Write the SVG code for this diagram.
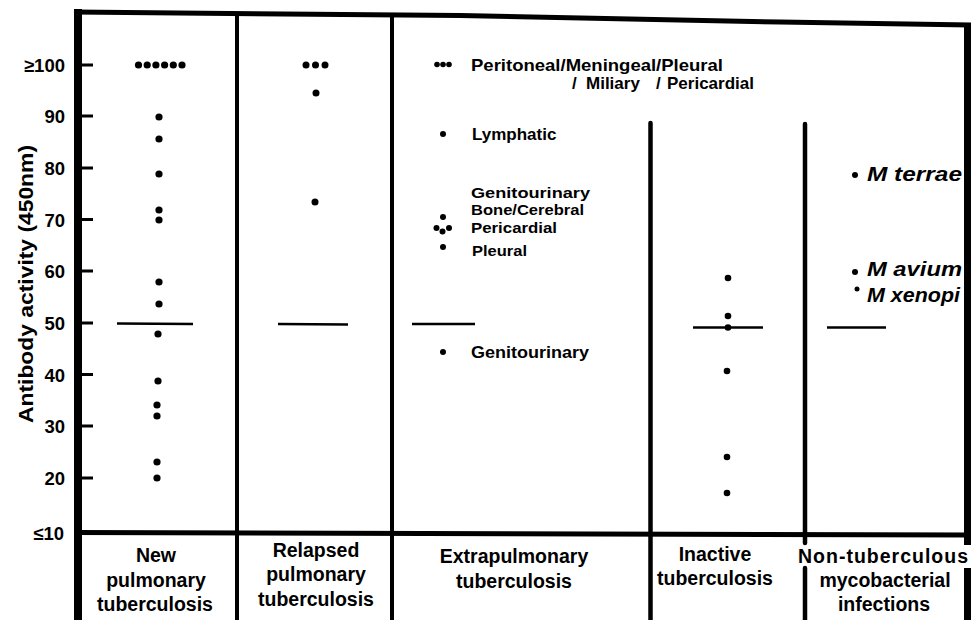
<svg xmlns="http://www.w3.org/2000/svg" width="971" height="620" viewBox="0 0 971 620">
<style>
.ln{stroke:#000;fill:none}
.md{stroke:#000;stroke-width:2.5;fill:none}
.tk{font-family:"Liberation Sans",Arial,sans-serif;font-weight:bold;font-size:18.5px;text-anchor:end;fill:#000}
.cat{font-family:"Liberation Sans",Arial,sans-serif;font-weight:bold;font-size:19.5px;text-anchor:middle;fill:#000}
.lbl{font-family:"Liberation Sans",Arial,sans-serif;font-weight:bold;font-size:17px;fill:#000}
.st{font-family:"Liberation Sans",Arial,sans-serif;font-weight:bold;font-size:15.5px;fill:#000}
.sp{font-family:"Liberation Sans",Arial,sans-serif;font-weight:bold;font-style:italic;font-size:21px;fill:#000}
.ax{font-family:"Liberation Sans",Arial,sans-serif;font-weight:bold;font-size:21px;text-anchor:middle;fill:#000}
circle{fill:#000}
</style>
<rect width="971" height="620" fill="#fff"/>
<g id="frame" class="ln">
<path d="M78 620 V9" stroke-width="8"/>
<polyline points="74,12 460,15.5 780,22 971,25" stroke-width="5"/>
<path d="M967.5 23 V545 M967.5 568 V620" stroke-width="7"/>
<line x1="74" y1="532.5" x2="971" y2="535" stroke-width="5"/>
<line x1="237" y1="13" x2="237" y2="620" stroke-width="4"/>
<line x1="392" y1="15" x2="392" y2="620" stroke-width="4"/>
<line x1="650.5" y1="123" x2="650.5" y2="622" stroke-width="4.5" stroke-linecap="round"/>
<path d="M805 124 V543 M805 568 V622" stroke-width="4.5" stroke-linecap="round"/>
</g>
<g id="y-axis">
<g class="ln" stroke-width="3">
<path d="M82 65 H93 M82 116 H93 M82 168 H93 M82 219.5 H93 M82 271 H93 M82 323 H93 M82 374.5 H93 M82 426 H93 M82 478 H93"/>
</g>
<text class="tk" x="65" y="71.5">≥100</text>
<text class="tk" x="65" y="123">90</text>
<text class="tk" x="65" y="175">80</text>
<text class="tk" x="65" y="226.5">70</text>
<text class="tk" x="65" y="278">60</text>
<text class="tk" x="65" y="330">50</text>
<text class="tk" x="65" y="381.5">40</text>
<text class="tk" x="65" y="433">30</text>
<text class="tk" x="65" y="485">20</text>
<text class="tk" x="64" y="539.5">≤10</text>
<text class="ax" transform="translate(33,284) rotate(-90)" textLength="278" lengthAdjust="spacingAndGlyphs">Antibody activity (450nm)</text>
</g>
<g id="col-new">
<g>
<circle cx="138.5" cy="65" r="3.6"/><circle cx="147.2" cy="65" r="3.6"/><circle cx="155.9" cy="65" r="3.6"/><circle cx="164.6" cy="65" r="3.6"/><circle cx="173.3" cy="65" r="3.6"/><circle cx="182" cy="65" r="3.6"/>
<circle cx="159" cy="117" r="3.6"/><circle cx="159" cy="139" r="3.6"/><circle cx="159" cy="174" r="3.6"/><circle cx="159" cy="210" r="3.6"/><circle cx="159" cy="220" r="3.6"/><circle cx="159" cy="282" r="3.6"/><circle cx="159" cy="304" r="3.6"/><circle cx="158" cy="334" r="3.6"/><circle cx="158" cy="381" r="3.6"/><circle cx="157" cy="405" r="3.6"/><circle cx="157" cy="416" r="3.6"/><circle cx="157" cy="462" r="3.6"/><circle cx="157" cy="478" r="3.6"/>
</g>
<line class="md" x1="117" y1="323.5" x2="193" y2="324"/>
<text class="cat" x="156" y="562">New</text>
<text class="cat" x="156" y="587">pulmonary</text>
<text class="cat" x="155" y="611">tuberculosis</text>
</g>
<g id="col-relapsed">
<circle cx="306" cy="65" r="3.5"/><circle cx="315.5" cy="65" r="3.5"/><circle cx="325" cy="65" r="3.5"/>
<circle cx="316" cy="93" r="3.5"/><circle cx="315" cy="202" r="3.5"/>
<line class="md" x1="278" y1="324" x2="348" y2="324.5"/>
<text class="cat" x="316" y="557">Relapsed</text>
<text class="cat" x="316" y="581">pulmonary</text>
<text class="cat" x="316" y="606">tuberculosis</text>
</g>
<g id="col-extrapulmonary">
<circle cx="437" cy="64.5" r="2.8"/><circle cx="443" cy="64.5" r="2.8"/><circle cx="449" cy="64.5" r="2.8"/>
<circle cx="443" cy="134" r="3"/>
<circle cx="443" cy="217" r="3"/><circle cx="436.5" cy="228" r="3"/><circle cx="442.5" cy="231.5" r="3"/><circle cx="449" cy="228" r="3"/>
<circle cx="443" cy="247" r="3"/>
<circle cx="443" cy="352" r="3"/>
<line class="md" x1="412" y1="324" x2="475" y2="324"/>
<text class="lbl" x="471" y="71" textLength="252" lengthAdjust="spacingAndGlyphs">Peritoneal/Meningeal/Pleural</text>
<text class="lbl" y="89"><tspan x="572">/</tspan><tspan x="586">Miliary</tspan><tspan x="656">/</tspan><tspan x="667">Pericardial</tspan></text>
<text class="lbl" x="472" y="140">Lymphatic</text>
<text class="st" x="471" y="197.5" textLength="119" lengthAdjust="spacingAndGlyphs">Genitourinary</text>
<text class="st" x="471" y="214.5" textLength="113" lengthAdjust="spacingAndGlyphs">Bone/Cerebral</text>
<text class="st" x="471" y="232.5" textLength="86" lengthAdjust="spacingAndGlyphs">Pericardial</text>
<text class="st" x="472" y="255.5" textLength="55" lengthAdjust="spacingAndGlyphs">Pleural</text>
<text class="lbl" x="471" y="358" textLength="118" lengthAdjust="spacingAndGlyphs">Genitourinary</text>
<text class="cat" x="514" y="563">Extrapulmonary</text>
<text class="cat" x="514" y="588">tuberculosis</text>
</g>
<g id="col-inactive">
<circle cx="728" cy="278" r="3.3"/><circle cx="728" cy="316" r="3.3"/><circle cx="728" cy="327.5" r="3.3"/><circle cx="727" cy="371" r="3.3"/><circle cx="727" cy="457" r="3.3"/><circle cx="727" cy="493" r="3.3"/>
<line class="md" x1="693" y1="327.5" x2="763" y2="327.5"/>
<text class="cat" x="715" y="561">Inactive</text>
<text class="cat" x="715" y="585">tuberculosis</text>
</g>
<g id="col-nontuberculous">
<circle cx="855" cy="175" r="3"/><circle cx="855" cy="272" r="3"/><circle cx="857" cy="289" r="2.5"/>
<line class="md" x1="827" y1="327.5" x2="886" y2="327.5"/>
<text class="sp" x="867" y="181" textLength="95" lengthAdjust="spacingAndGlyphs">M terrae</text>
<text class="sp" x="867" y="276" textLength="95" lengthAdjust="spacingAndGlyphs">M avium</text>
<text class="sp" x="867" y="302" textLength="93" lengthAdjust="spacingAndGlyphs">M xenopi</text>
<text class="cat" x="883" y="563" textLength="170" lengthAdjust="spacing">Non-tuberculous</text>
<text class="cat" x="885" y="587">mycobacterial</text>
<text class="cat" x="884" y="611">infections</text>
</g>
</svg>
